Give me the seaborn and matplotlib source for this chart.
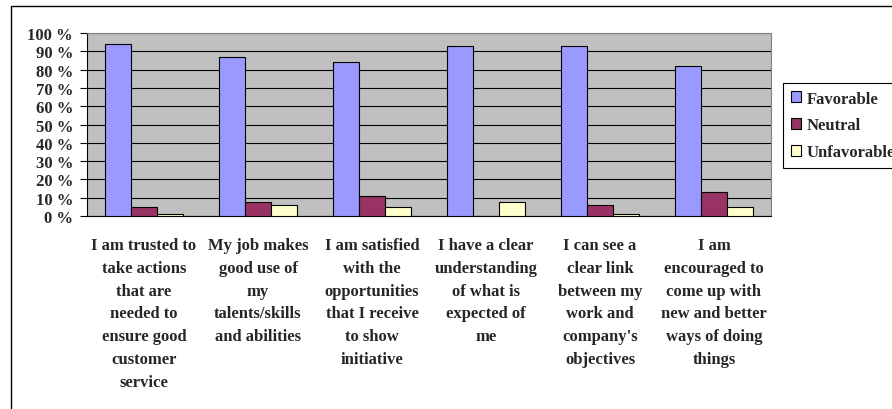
import matplotlib
matplotlib.use("Agg")
import matplotlib.pyplot as plt
import matplotlib.patches as mpatches
import seaborn as sns
import pandas as pd

categories = [
    "I am trusted to\ntake actions\nthat are\nneeded to\nensure good\ncustomer\nservice",
    "My job makes\ngood use of\nmy\ntalents/skills\nand abilities",
    "I am satisfied\nwith the\nopportunities\nthat I receive\nto show\ninitiative",
    "I have a clear\nunderstanding\nof what is\nexpected of\nme",
    "I can see a\nclear link\nbetween my\nwork and\ncompany's\nobjectives",
    "I am\nencouraged to\ncome up with\nnew and better\nways of doing\nthings",
]
series = ["Favorable", "Neutral", "Unfavorable"]
favorable = [94, 87, 84, 93, 93, 82]
neutral = [5, 7.5, 11, 0, 6, 13]
unfavorable = [1, 6, 5, 7.5, 1, 5]
yticks = [0, 10, 20, 30, 40, 50, 60, 70, 80, 90, 100]
colors = {"Favorable": "#9999FF", "Neutral": "#993366", "Unfavorable": "#FFFFCC"}

rows = []
for s, vals in zip(series, [favorable, neutral, unfavorable]):
    for c, v in zip(categories, vals):
        rows.append({"Question": c, "Response": s, "Percent": v})
df = pd.DataFrame(rows)

sns.set_theme(style="white")
plt.rcParams["font.family"] = ["Liberation Serif", "DejaVu Serif"]
plt.rcParams["font.weight"] = "bold"

W, H = 892, 410
fig = plt.figure(figsize=(W / 100, H / 100), dpi=100)
fig.patch.set_facecolor("white")
ax = fig.add_axes([87 / W, 1 - 217 / H, (771 - 87) / W, (217 - 34) / H])

sns.barplot(data=df, x="Question", y="Percent", hue="Response",
            hue_order=series, order=categories, palette=colors,
            width=0.684, gap=0, edgecolor="black", linewidth=0.8,
            errorbar=None, ax=ax, zorder=3, saturation=1)

ax.set_facecolor("#C0C0C0")
ax.set_ylim(0, 100)
ax.set_xlim(-0.5, len(categories) - 0.5)
ax.set_yticks(yticks)
ax.set_yticklabels([f"{t} %" for t in yticks], fontsize=12, fontweight="bold")
ax.yaxis.grid(True, color="black", linewidth=0.8)
ax.set_axisbelow(True)
ax.set_xlabel("")
ax.set_ylabel("")

ax.set_xticks(range(len(categories)))
ax.set_xticklabels(categories, fontsize=12, fontweight="bold", linespacing=1.57)
ax.set_xticks([i - 0.5 for i in range(len(categories) + 1)], minor=True)
ax.tick_params(axis="x", which="major", length=0, pad=15)
ax.tick_params(axis="x", which="minor", length=5, width=0.8, color="black", direction="out")
ax.tick_params(axis="y", which="major", length=5, width=0.8, color="black", direction="out", pad=5, left=True)

for side in ["left", "bottom"]:
    ax.spines[side].set_color("black")
    ax.spines[side].set_linewidth(0.8)
for side in ["top", "right"]:
    ax.spines[side].set_color("#808080")
    ax.spines[side].set_linewidth(0.8)

handles, labels = ax.get_legend_handles_labels()
if ax.get_legend() is not None:
    ax.get_legend().remove()
leg = fig.legend(handles, labels, loc="upper left",
                 bbox_to_anchor=(783 / W, 1 - 84 / H), borderaxespad=0,
                 fancybox=False, framealpha=1, edgecolor="black",
                 prop={"family": "Liberation Serif", "weight": "bold", "size": 12},
                 handlelength=0.6, handleheight=0.6, handletextpad=0.35,
                 labelspacing=0.65, borderpad=0.45)
leg.get_frame().set_linewidth(0.8)

frame = mpatches.Rectangle((11 / W, -0.1), 2, 1 - 7 / H + 0.1,
                           transform=fig.transFigure, fill=False,
                           edgecolor="black", linewidth=1.0)
fig.patches.append(frame)

fig.savefig("out.png", dpi=100)
